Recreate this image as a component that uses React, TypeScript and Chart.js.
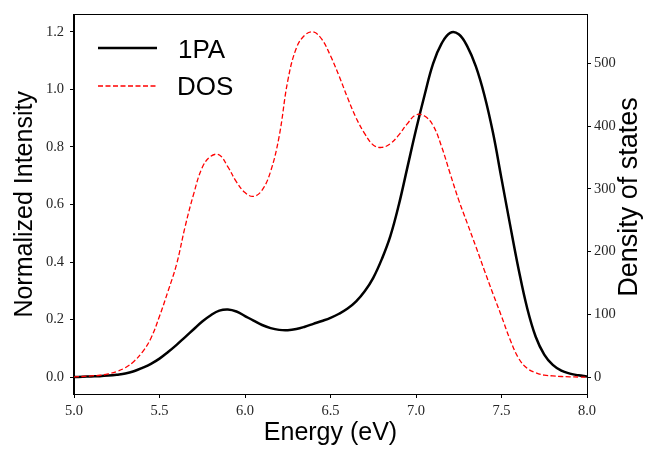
import { useEffect, useRef } from 'react';
import { Chart, registerables } from 'chart.js';

Chart.register(...registerables);

// Photon energy grid (eV), shared by both series
const ENERGY = [
  5.0, 5.05, 5.1, 5.15, 5.2, 5.25, 5.3, 5.35, 5.4, 5.45,
  5.5, 5.55, 5.6, 5.65, 5.7, 5.75, 5.8, 5.85, 5.9, 5.95,
  6.0, 6.05, 6.1, 6.15, 6.2, 6.25, 6.3, 6.35, 6.4, 6.45,
  6.5, 6.55, 6.6, 6.65, 6.7, 6.75, 6.8, 6.85, 6.9, 6.95,
  7.0, 7.05, 7.1, 7.15, 7.2, 7.25, 7.3, 7.35, 7.4, 7.45,
  7.5, 7.55, 7.6, 7.65, 7.7, 7.75, 7.8, 7.85, 7.9, 7.95, 8.0,
];

// 1PA spectrum (normalized intensity, left axis)
const INTENSITY_1PA = [
  0.0, 0.001, 0.002, 0.003, 0.005, 0.008, 0.012, 0.02, 0.032, 0.046,
  0.064, 0.087, 0.112, 0.139, 0.166, 0.193, 0.215, 0.231, 0.235, 0.228,
  0.212, 0.196, 0.181, 0.17, 0.164, 0.163, 0.167, 0.175, 0.185, 0.195,
  0.206, 0.22, 0.238, 0.263, 0.298, 0.345, 0.41, 0.49, 0.6, 0.73,
  0.86, 0.98, 1.09, 1.16, 1.197, 1.192, 1.15, 1.08, 0.98, 0.85,
  0.69, 0.53, 0.375, 0.24, 0.14, 0.078, 0.042, 0.022, 0.012, 0.006, 0.002,
];

// Density of states (right axis)
const DOS_VALUES = [
  0.5, 1, 2, 3, 5, 9, 15, 25, 40, 62,
  97, 137, 180, 240, 292, 334, 352, 354, 335, 311,
  294, 288, 298, 328, 384, 472, 524, 545, 550, 538,
  512, 480, 445, 413, 388, 370, 366, 372, 386, 404,
  418, 416, 401, 367, 324, 282, 245, 208, 170, 133,
  97, 60, 30, 14, 7, 3, 2, 1, 0.5, 0.2, 0,
];

const X_TICKS = [5.0, 5.5, 6.0, 6.5, 7.0, 7.5, 8.0];
const LEFT_TICKS = [0.0, 0.2, 0.4, 0.6, 0.8, 1.0, 1.2];
const RIGHT_TICKS = [0, 100, 200, 300, 400, 500];

const SERIES_LABELS = ['1PA', 'DOS'];

const TICK_FONT = { family: '"Liberation Serif", serif', size: 14.5 };
const TICK_COLOR = '#262626';
const SANS = '"Liberation Sans", Arial, sans-serif';

const framePlugin = {
  id: 'frameAndExtras',
  afterDraw(chart: any) {
    const { ctx, chartArea } = chart;
    const { left, right, top, bottom } = chartArea;
    ctx.save();
    ctx.strokeStyle = '#000';
    ctx.lineWidth = 1;
    ctx.strokeRect(Math.round(left) - 0.5, Math.round(top) - 0.5, Math.round(right - left) + 1, Math.round(bottom - top) + 1);

    // legend
    ctx.lineWidth = 2.5;
    ctx.strokeStyle = '#000';
    ctx.setLineDash([]);
    ctx.beginPath();
    ctx.moveTo(98, 48);
    ctx.lineTo(157, 48);
    ctx.stroke();
    ctx.lineWidth = 1.3;
    ctx.strokeStyle = '#ff0000';
    ctx.setLineDash([5, 2.5]);
    ctx.beginPath();
    ctx.moveTo(98, 86);
    ctx.lineTo(157, 86);
    ctx.stroke();
    ctx.setLineDash([]);
    ctx.fillStyle = '#000';
    ctx.font = `26px ${SANS}`;
    ctx.textAlign = 'left';
    ctx.textBaseline = 'alphabetic';
    ctx.fillText(SERIES_LABELS[0], 178, 58);
    ctx.fillText(SERIES_LABELS[1], 177, 95);

    // right axis title (reads bottom to top)
    ctx.save();
    ctx.translate(630, 197);
    ctx.rotate(-Math.PI / 2);
    ctx.font = `27px ${SANS}`;
    ctx.textAlign = 'center';
    ctx.textBaseline = 'middle';
    ctx.fillText('Density of states', 0, 0);
    ctx.restore();
    ctx.restore();
  },
};

export default function App() {
  const ref = useRef<HTMLCanvasElement>(null);
  useEffect(() => {
    const canvas = ref.current;
    if (!canvas) return;
    const chart = new Chart(canvas, {
      type: 'line',
      data: {
        datasets: [
          {
            label: SERIES_LABELS[1],
            data: ENERGY.map((x, i) => ({ x, y: DOS_VALUES[i] })),
            yAxisID: 'y2',
            borderColor: '#ff0000',
            borderWidth: 1.3,
            borderDash: [5, 2.5],
            pointRadius: 0,
            fill: false,
            tension: 0.4,
          },
          {
            label: SERIES_LABELS[0],
            data: ENERGY.map((x, i) => ({ x, y: INTENSITY_1PA[i] })),
            yAxisID: 'y',
            borderColor: '#000000',
            borderWidth: 2.5,
            pointRadius: 0,
            fill: false,
            tension: 0.4,
          },
        ],
      },
      options: {
        animation: false,
        responsive: false,
        maintainAspectRatio: false,
        layout: { padding: { top: 12, left: 0, right: 0, bottom: 0 } },
        plugins: { legend: { display: false }, tooltip: { enabled: false } },
        scales: {
          x: {
            type: 'linear',
            min: 5,
            max: 8,
            afterBuildTicks: (s: any) => {
              s.ticks = X_TICKS.map((v) => ({ value: v }));
            },
            afterFit: (s: any) => {
              s.height = 56;
            },
            ticks: {
              callback: (v: any) => Number(v).toFixed(1),
              font: TICK_FONT,
              color: TICK_COLOR,
              padding: 4,
              maxRotation: 0,
              autoSkip: false,
            },
            grid: { drawOnChartArea: false, drawTicks: true, tickLength: 4, color: '#000' },
            border: { color: '#000', width: 1 },
            title: {
              display: true,
              text: 'Energy (eV)',
              font: { family: SANS, size: 25 },
              color: '#000',
              padding: { top: 0, bottom: 2 },
            },
          },
          y: {
            type: 'linear',
            position: 'left',
            min: -0.059,
            max: 1.26,
            afterBuildTicks: (s: any) => {
              s.ticks = LEFT_TICKS.map((v) => ({ value: v }));
            },
            afterFit: (s: any) => {
              s.width = 74;
            },
            ticks: {
              callback: (v: any) => Number(v).toFixed(1),
              font: TICK_FONT,
              color: TICK_COLOR,
              padding: 6,
            },
            grid: { drawOnChartArea: false, drawTicks: true, tickLength: 4, color: '#000' },
            border: { color: '#000', width: 1 },
            title: {
              display: true,
              text: 'Normalized Intensity',
              font: { family: SANS, size: 25 },
              color: '#000',
              padding: { top: 10, bottom: 0 },
            },
          },
          y2: {
            type: 'linear',
            position: 'right',
            min: -26.9,
            max: 577.5,
            afterBuildTicks: (s: any) => {
              s.ticks = RIGHT_TICKS.map((v) => ({ value: v }));
            },
            afterFit: (s: any) => {
              s.width = 61;
            },
            ticks: {
              callback: (v: any) => String(v),
              font: TICK_FONT,
              color: TICK_COLOR,
              padding: 3,
            },
            grid: { drawOnChartArea: false, drawTicks: true, tickLength: 4, color: '#000' },
            border: { color: '#000', width: 1 },
          },
        },
      },
      plugins: [framePlugin],
    } as any);
    return () => chart.destroy();
  }, []);
  return (
    <div style={{ position: 'absolute', left: 0, top: 0, width: 648, height: 450, background: '#fff' }}>
      <canvas ref={ref} width={648} height={450} style={{ width: 648, height: 450, display: 'block' }} />
    </div>
  );
}
